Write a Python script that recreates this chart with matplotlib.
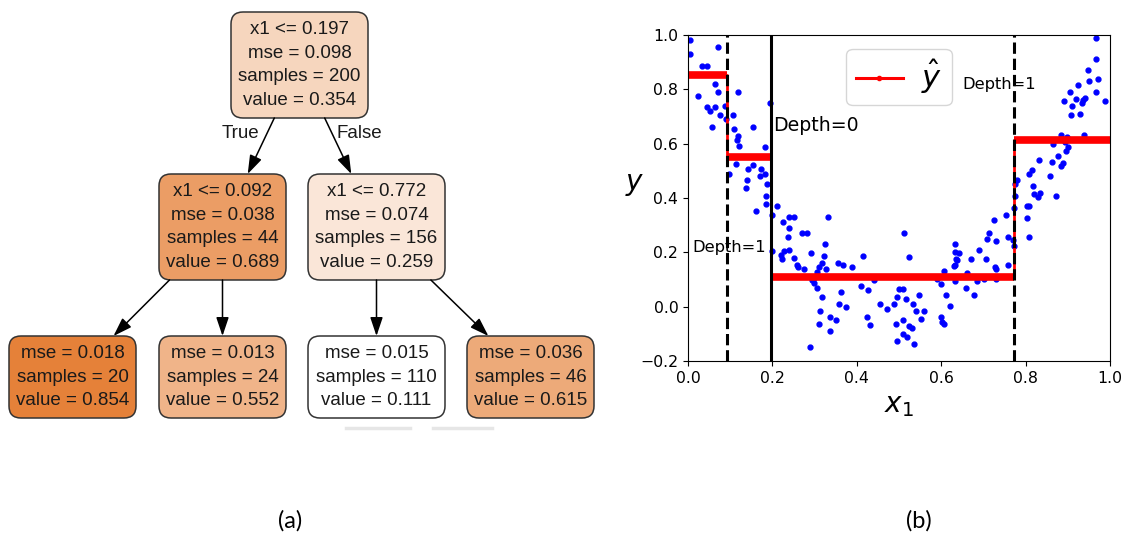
import matplotlib
matplotlib.use("Agg")
import matplotlib.pyplot as plt
from matplotlib.patches import FancyBboxPatch
from matplotlib.lines import Line2D

# depth-2 regression tree: root, left, right, then the four leaves
thresholds = [0.197, 0.092, 0.772]
mse = [0.098, 0.038, 0.074, 0.018, 0.013, 0.015, 0.036]
samples = [200, 44, 156, 20, 24, 110, 46]
values = [0.354, 0.689, 0.259, 0.854, 0.552, 0.111, 0.615]
children = {0: (1, 2), 1: (3, 4), 2: (5, 6)}
depth = [0, 1, 1, 2, 2, 2, 2]

# training points (x1, y)
x_a = [0.005, 0.005, 0.024, 0.034, 0.044, 0.071, 0.063, 0.071, 0.044, 0.051,
       0.063, 0.076, 0.058, 0.087, 0.089]
y_a = [0.98, 0.93, 0.775, 0.886, 0.886, 0.956, 0.82, 0.79, 0.734, 0.721,
       0.734, 0.705, 0.66, 0.74, 0.69]
x_b = [0.118, 0.107, 0.109, 0.118, 0.117, 0.122, 0.154, 0.194, 0.182, 0.113,
       0.097, 0.143, 0.155, 0.172, 0.182, 0.17, 0.139, 0.188, 0.137, 0.184,
       0.184, 0.16]
y_b = [0.79, 0.705, 0.653, 0.628, 0.613, 0.59, 0.66, 0.75, 0.588, 0.525,
       0.49, 0.505, 0.52, 0.505, 0.487, 0.48, 0.468, 0.45, 0.435, 0.407,
       0.378, 0.353]
x_c = [0.198, 0.198, 0.212, 0.226, 0.22, 0.223, 0.24, 0.252, 0.24, 0.238,
       0.271, 0.283, 0.331, 0.325, 0.227, 0.24, 0.25, 0.258, 0.261, 0.276,
       0.291, 0.322, 0.318, 0.311, 0.305, 0.299, 0.326, 0.293, 0.299, 0.305,
       0.317, 0.313, 0.31, 0.336, 0.35, 0.336, 0.289, 0.356, 0.367, 0.362,
       0.359, 0.374, 0.389, 0.415, 0.409, 0.426, 0.441, 0.455, 0.471, 0.425,
       0.431, 0.513, 0.524, 0.489, 0.496, 0.501, 0.509, 0.517, 0.492, 0.509,
       0.51, 0.518, 0.496, 0.524, 0.53, 0.536, 0.534, 0.54, 0.547, 0.553,
       0.559, 0.591, 0.599, 0.607, 0.611, 0.599, 0.603, 0.607, 0.622, 0.632,
       0.632, 0.643, 0.635, 0.638, 0.633, 0.63, 0.632, 0.662, 0.659, 0.671,
       0.678, 0.684, 0.69, 0.705, 0.701, 0.708, 0.714, 0.731, 0.726, 0.727,
       0.73, 0.729, 0.753, 0.759, 0.759]
y_c = [0.337, 0.204, 0.37, 0.312, 0.19, 0.177, 0.33, 0.33, 0.29, 0.257,
       0.272, 0.272, 0.33, 0.232, 0.204, 0.21, 0.18, 0.153, 0.146, 0.14,
       0.197, 0.187, 0.161, 0.146, 0.128, 0.107, 0.14, 0.097, 0.087, 0.07,
       0.036, -0.016, -0.062, -0.038, -0.05, -0.09, -0.148, 0.16, 0.153, 0.054,
       0.008, -0.003, 0.146, 0.186, 0.076, 0.06, 0.097, 0.008, -0.01, -0.038,
       -0.069, 0.273, 0.181, 0.011, 0.036, 0.065, 0.065, 0.03, -0.062, -0.048,
       -0.102, -0.112, -0.126, -0.072, -0.077, -0.136, 0.009, -0.016, 0.042, -0.044,
       -0.016, 0.1, 0.085, 0.13, 0.042, -0.038, -0.056, -0.062, 0.003, 0.232,
       0.2, 0.198, 0.177, 0.171, 0.153, 0.149, 0.095, 0.124, 0.07, 0.174,
       0.042, 0.094, 0.208, 0.174, 0.1, 0.25, 0.27, 0.242, 0.318, 0.146,
       0.137, 0.1, 0.337, 0.258, 0.153]
x_d = [0.775, 0.779, 0.775, 0.814, 0.808, 0.817, 0.82, 0.834, 0.83, 0.872,
       0.859, 0.832, 0.862, 0.889, 0.885, 0.877, 0.901, 0.896, 0.866, 0.885,
       0.897, 0.893, 0.938, 0.908, 0.929, 0.892, 0.909, 0.919, 0.935, 0.94,
       0.934, 0.905, 0.988, 0.967, 0.923, 0.951, 0.972, 0.947, 0.967, 0.968,
       0.773, 0.803, 0.809, 0.803, 0.771, 0.773, 0.809]
y_d = [0.407, 0.466, 0.451, 0.502, 0.49, 0.444, 0.414, 0.419, 0.404, 0.408,
       0.482, 0.54, 0.533, 0.527, 0.517, 0.554, 0.586, 0.574, 0.598, 0.632,
       0.623, 0.607, 0.632, 0.705, 0.711, 0.758, 0.738, 0.763, 0.76, 0.769,
       0.75, 0.79, 0.758, 0.79, 0.816, 0.83, 0.837, 0.871, 0.912, 0.988,
       0.365, 0.37, 0.37, 0.325, 0.245, 0.222, 0.257]

x1_pts = x_a + x_b + x_c + x_d
y_pts = y_a + y_b + y_c + y_d

fig = plt.figure(figsize=(11.23, 5.38), dpi=100)

# ---- (a) tree diagram, drawn in a pixel-coordinate overlay ----
tree = fig.add_axes([0, 0, 1, 1])
tree.set_xlim(0, 1123)
tree.set_ylim(538, 0)
tree.axis("off")

box_x = [(231, 368), (159, 286), (308, 445), (9, 136), (159, 286), (308, 445), (467, 594)]
level_y = [(12, 118), (174, 280), (336, 418)]
tree_font = ["Liberation Sans", "DejaVu Sans"]
tree_size = 13.5
line_h = 23.4

vmin, vmax = min(values), max(values)
orange = (229 / 255, 129 / 255, 57 / 255)


def node_color(v):
    a = (v - vmin) / (vmax - vmin)
    return tuple(a * c + (1 - a) for c in orange)


def node_lines(i):
    lines = []
    if i in children:
        lines.append("x1 <= %.3f" % thresholds[i])
    lines += ["mse = %.3f" % mse[i], "samples = %d" % samples[i], "value = %.3f" % values[i]]
    return lines


centers = []
for i in range(len(values)):
    x0, x1 = box_x[i]
    y0, y1 = level_y[depth[i]]
    centers.append(((x0 + x1) / 2, (y0 + y1) / 2))
    tree.add_patch(FancyBboxPatch((x0, y0), x1 - x0, y1 - y0,
                                  boxstyle="round,pad=0,rounding_size=12",
                                  fc=node_color(values[i]), ec="#333333", lw=1.1))
    lines = node_lines(i)
    cy = (y0 + y1) / 2 - line_h * (len(lines) - 1) / 2
    for k, s in enumerate(lines):
        tree.text((x0 + x1) / 2, cy + k * line_h, s, ha="center", va="center",
                  fontsize=tree_size, family=tree_font, color="#1a1a1a")

# edges: centre-to-centre lines clipped to box bottom/top
for p, (l, r) in children.items():
    for c in (l, r):
        px, py = centers[p]
        cx, cy = centers[c]
        yb = level_y[depth[p]][1]
        yt = level_y[depth[c]][0]
        xs = px + (cx - px) * (yb - py) / (cy - py)
        xe = px + (cx - px) * (yt - py) / (cy - py)
        tree.annotate("", xy=(xe, yt), xytext=(xs, yb),
                      arrowprops=dict(arrowstyle="-|>,head_length=0.95,head_width=0.32",
                                      color="black", lw=1.1, mutation_scale=12,
                                      shrinkA=0, shrinkB=0))

tree.text(240, 134, "True", ha="center", va="center", fontsize=tree_size,
          family=tree_font, color="#1a1a1a")
tree.text(359, 134, "False", ha="center", va="center", fontsize=tree_size,
          family=tree_font, color="#1a1a1a")
tree.plot([346, 410], [428, 428], color="#e6e6e6", lw=2.5)
tree.plot([433, 492], [428, 428], color="#e6e6e6", lw=2.5)

tree.text(290, 521, "(a)", ha="center", va="center", fontsize=17, family="Lato")
tree.text(919, 521, "(b)", ha="center", va="center", fontsize=17, family="Lato")

# ---- (b) predictions of the tree over the data ----
ax = fig.add_axes([688 / 1123, 1 - 361 / 538, 422 / 1123, 326 / 538])
ax.plot(x1_pts, y_pts, "b.", ms=7)

leaf_vals = values[3:]
edges = [0, thresholds[1], thresholds[0], thresholds[2], 1]
step_x, step_y = [], []
for k, v in enumerate(leaf_vals):
    step_x += [edges[k], edges[k + 1]]
    step_y += [v, v]
ax.plot(step_x, step_y, "r-", lw=2)
ax.hlines(leaf_vals, edges[:-1], edges[1:], colors="red", lw=5.5)

ax.plot([thresholds[0]] * 2, [-0.2, 1], "k-", lw=2.2)
for th in (thresholds[1], thresholds[2]):
    ax.plot([th, th], [-0.2, 1], "k--", lw=2.2)

ax.text(thresholds[0] + 0.005, 0.645, "Depth=0", fontsize=13.6)
ax.text(0.01, 0.2, "Depth=1", fontsize=11.7)
ax.text(0.65, 0.8, "Depth=1", fontsize=11.7)

ax.axis([0, 1, -0.2, 1])
ax.tick_params(labelsize=11.3)
ax.set_xlabel("$x_1$", fontsize=20)
ax.set_ylabel("$y$", fontsize=20, rotation=0)
handle = Line2D([], [], color="red", marker=".", lw=2.2)
ax.legend([handle], [r"$\hat{y}$"], loc="upper center", fontsize=22,
          handlelength=1.55, handletextpad=0.6, borderpad=0.3, borderaxespad=0.45)

fig.savefig("out.png", dpi=100)
